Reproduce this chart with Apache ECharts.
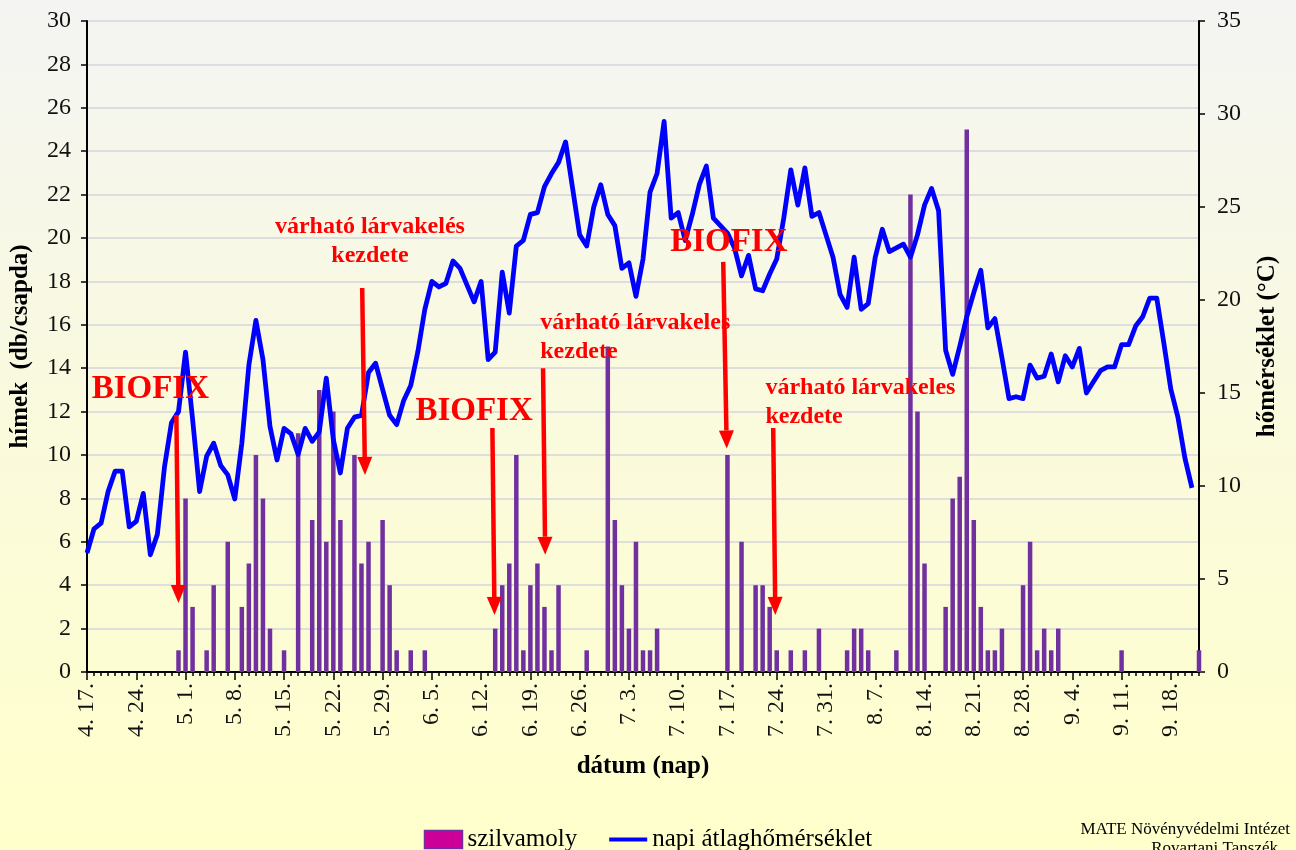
<!DOCTYPE html>
<html>
<head>
<meta charset="utf-8">
<script src="https://cdn.jsdelivr.net/npm/echarts@6/dist/echarts.min.js"></script>
<style>
  html, body { margin: 0; padding: 0; }
  #chart { width: 1296px; height: 850px; }
</style>
</head>
<body>
<div id="chart"></div>
<script>
// ---------- DATA ----------
// Daily categories 4.17 ... 9.22 (label format "M. D.")
const monthSpans = [[4, 17, 30], [5, 1, 31], [6, 1, 30], [7, 1, 31], [8, 1, 31], [9, 1, 22]];
const categories = [];
monthSpans.forEach(([m, d0, d1]) => { for (let d = d0; d <= d1; d++) categories.push(m + '. ' + d + '.'); });

// szilvamoly catches (db/csapda), one value per day
const mothCounts = [
  0,0,0,0,0,0,0,0,0,0,
  0,0,0,1,8,3,0,1,4,0,
  6,0,3,5,10,8,2,0,1,0,
  11,0,7,13,6,12,7,0,10,5,
  6,0,7,4,1,0,1,0,1,0,
  0,0,0,0,0,0,0,0,2,4,
  5,10,1,4,5,3,1,4,0,0,
  0,1,0,0,15,7,4,2,6,1,
  1,2,0,0,0,0,0,0,0,0,
  0,10,0,6,0,4,4,3,1,0,
  1,0,1,0,2,0,0,0,1,2,
  2,1,0,0,0,1,0,22,12,5,
  0,0,3,8,9,25,7,3,1,1,
  2,0,0,4,6,1,2,1,2,0,
  0,0,0,0,0,0,0,1,0,0,
  0,0,0,0,0,0,0,0,1
];

// napi átlaghőmérséklet (°C)
const dailyTemp = [
  6.4,7.7,8.0,9.7,10.8,10.8,7.8,8.1,9.6,6.3,
  7.4,11.0,13.4,14.0,17.2,13.6,9.7,11.6,12.3,11.1,
  10.6,9.3,12.3,16.5,18.9,16.8,13.2,11.4,13.1,12.8,
  11.7,13.1,12.4,12.9,15.8,12.5,10.7,13.1,13.7,13.8,
  16.1,16.6,15.2,13.8,13.3,14.6,15.4,17.2,19.5,21.0,
  20.7,20.9,22.1,21.7,20.8,19.9,21.0,16.8,17.2,21.5,
  19.3,22.9,23.2,24.6,24.7,26.1,26.8,27.4,28.5,26.0,
  23.5,22.9,25.0,26.2,24.6,24.0,21.7,22.0,20.2,22.2,
  25.8,26.8,29.6,24.4,24.7,23.2,24.6,26.2,27.2,24.4,
  24.0,23.6,22.8,21.3,22.4,20.6,20.5,21.4,22.2,24.4,
  27.0,25.1,27.1,24.5,24.7,23.5,22.3,20.3,19.6,22.3,
  19.5,19.8,22.3,23.8,22.6,22.8,23.0,22.3,23.5,25.1,
  26.0,24.8,17.3,16.0,17.5,19.1,20.4,21.6,18.5,19.0,
  16.9,14.7,14.8,14.7,16.5,15.8,15.9,17.1,15.6,17.0,
  16.4,17.4,15.0,15.6,16.2,16.4,16.4,17.6,17.6,18.6,
  19.1,20.1,20.1,17.7,15.2,13.7,11.5,9.9
];

const seriesNames = ['szilvamoly', 'napi átlaghőmérséklet'];
const leftTicks = { min: 0, max: 30, interval: 2 };
const rightTicks = { min: 0, max: 35, interval: 5 };

// Annotations in data coordinates (day index, left-axis value)
const labelTexts = [
  { lines: ['BIOFIX'], big: true, day: 9.0, val: 13.0, align: 'center' },
  { lines: ['várható lárvakelés', 'kezdete'], day: 40.2, val: 20.5, align: 'center' },
  { lines: ['BIOFIX'], big: true, day: 55.0, val: 12.0, align: 'center' },
  { lines: ['várható lárvakeles', 'kezdete'], day: 64.4, val: 16.1, align: 'left' },
  { lines: ['BIOFIX'], big: true, day: 91.2, val: 19.8, align: 'center' },
  { lines: ['várható lárvakeles', 'kezdete'], day: 96.4, val: 13.1, align: 'left' }
];
const arrows = [
  { from: [12.7, 11.84], to: [13.0, 3.18] },
  { from: [39.1, 17.7], to: [39.5, 9.08] },
  { from: [57.6, 11.24], to: [57.9, 2.63] },
  { from: [64.8, 14.0], to: [65.1, 5.4] },
  { from: [90.4, 18.9], to: [90.9, 10.3] },
  { from: [97.5, 11.24], to: [97.8, 2.63] }
];

// ---------- CHART ----------
const SERIF = '"Liberation Serif", "Times New Roman", "DejaVu Serif", serif';
const chart = echarts.init(document.getElementById('chart'), null, { renderer: 'canvas' });

const axisLineStyle = { color: '#000', width: 2 };
const titleStyle = { fontFamily: SERIF, fontSize: 25, fontWeight: 'bold', color: '#000' };

const option = {
  backgroundColor: {
    type: 'linear', x: 0, y: 0, x2: 0, y2: 1,
    colorStops: [
      { offset: 0, color: '#f4f5f3' },
      { offset: 0.5, color: '#fafadd' },
      { offset: 1, color: '#ffffcb' }
    ]
  },
  animation: false,
  grid: { left: 87, right: 97, top: 21, bottom: 178, containLabel: false },
  legend: {
    left: 'center', top: 822,
    itemWidth: 38, itemHeight: 18, itemGap: 32,
    textStyle: { fontFamily: SERIF, fontSize: 25, color: '#000' },
    data: [
      { name: seriesNames[0], icon: 'rect', itemStyle: { color: '#cc0099', borderColor: '#7030a0', borderWidth: 1.5 } },
      { name: seriesNames[1], icon: 'path://M0,0 L46,0 L46,5 L0,5 Z', itemStyle: { color: '#0000ff' } }
    ]
  },
  xAxis: [
    {
      type: 'category', data: categories, boundaryGap: false,
      axisLine: { lineStyle: axisLineStyle },
      axisTick: { interval: 0, length: 4, lineStyle: { color: '#000', width: 1.5 } },
      axisLabel: { show: false },
      splitLine: { show: false }
    },
    {
      type: 'category', data: categories, boundaryGap: false, position: 'bottom',
      name: 'dátum (nap)', nameLocation: 'middle', nameGap: 82,
      nameTextStyle: titleStyle,
      axisLine: { lineStyle: axisLineStyle },
      axisTick: { interval: 6, length: 8, lineStyle: { color: '#000', width: 1.5 } },
      axisLabel: { interval: 6, rotate: 90, margin: 11, fontFamily: SERIF, fontSize: 24, color: '#111' },
      splitLine: { show: false }
    }
  ],
  yAxis: [
    {
      type: 'value', min: leftTicks.min, max: leftTicks.max, interval: leftTicks.interval,
      name: 'hímek  (db/csapda)', nameLocation: 'middle', nameGap: 54, nameRotate: 90,
      nameTextStyle: titleStyle,
      axisLine: { show: true, lineStyle: axisLineStyle },
      axisTick: { show: true, length: 6, lineStyle: { color: '#000', width: 1.5 } },
      axisLabel: { margin: 16, fontFamily: SERIF, fontSize: 24, color: '#111' },
      splitLine: { show: true, lineStyle: { color: '#d4d4dc', width: 1.5 } }
    },
    {
      type: 'value', min: rightTicks.min, max: rightTicks.max, interval: rightTicks.interval, position: 'right',
      name: 'hőmérséklet (°C)', nameLocation: 'middle', nameGap: 56, nameRotate: 90,
      nameTextStyle: titleStyle,
      axisLine: { show: true, lineStyle: axisLineStyle },
      axisTick: { show: true, length: 6, lineStyle: { color: '#000', width: 1.5 } },
      axisLabel: { margin: 18, fontFamily: SERIF, fontSize: 24, color: '#111' },
      splitLine: { show: false }
    }
  ],
  series: [
    {
      name: seriesNames[0], type: 'bar', xAxisIndex: 0, yAxisIndex: 0,
      data: mothCounts.map(v => (v === 0 ? null : v)),
      barWidth: 4.5,
      itemStyle: { color: '#7030a0' },
      z: 2
    },
    {
      name: seriesNames[1], type: 'line', xAxisIndex: 0, yAxisIndex: 1,
      data: dailyTemp, symbol: 'none', showSymbol: false,
      lineStyle: { color: '#0000ff', width: 4.8, join: 'round' },
      itemStyle: { color: '#0000ff' },
      z: 3
    }
  ]
};
chart.setOption(option);

// ---------- ANNOTATIONS (placed through the chart's own scales) ----------
function px(day, val) {
  const x0 = chart.convertToPixel({ xAxisIndex: 0 }, categories[0]);
  const xN = chart.convertToPixel({ xAxisIndex: 0 }, categories[categories.length - 1]);
  const x = x0 + (xN - x0) * day / (categories.length - 1);
  const y = chart.convertToPixel({ yAxisIndex: 0 }, val);
  return [x, y];
}
const graphics = [];
labelTexts.forEach(a => {
  const [x, y] = px(a.day, a.val);
  const fs = a.big ? 33 : 24;
  const lh = a.big ? 34 : 29;
  a.lines.forEach((t, i) => {
    graphics.push({
      type: 'text', x: x, y: y + i * lh, z: 10,
      style: {
        text: t, fill: '#ff0000', font: 'bold ' + fs + 'px ' + SERIF,
        textAlign: a.align === 'left' ? 'left' : 'center', textVerticalAlign: 'middle'
      }
    });
  });
});
arrows.forEach(a => {
  const [x1, y1] = px(a.from[0], a.from[1]);
  const [x2, y2] = px(a.to[0], a.to[1]);
  const headLen = 18, headHalf = 7.5;
  const dx = x2 - x1, dy = y2 - y1, L = Math.hypot(dx, dy);
  const ux = dx / L, uy = dy / L;
  const bx = x2 - ux * headLen, by = y2 - uy * headLen;
  graphics.push({
    type: 'line', z: 10,
    shape: { x1: x1, y1: y1, x2: bx, y2: by },
    style: { stroke: '#ff0000', lineWidth: 4.5 }
  });
  graphics.push({
    type: 'polygon', z: 10,
    shape: { points: [[x2, y2], [bx - uy * headHalf, by + ux * headHalf], [bx + uy * headHalf, by - ux * headHalf]] },
    style: { fill: '#ff0000' }
  });
});
// footnote
graphics.push({
  type: 'text', right: 6, top: 821, z: 10,
  style: { text: 'MATE Növényvédelmi Intézet', fill: '#000', font: '17px ' + SERIF, textAlign: 'right' }
});
graphics.push({
  type: 'text', right: 18, top: 840, z: 10,
  style: { text: 'Rovartani Tanszék', fill: '#000', font: '17px ' + SERIF, textAlign: 'right' }
});
chart.setOption({ graphic: graphics });
</script>
</body>
</html>
